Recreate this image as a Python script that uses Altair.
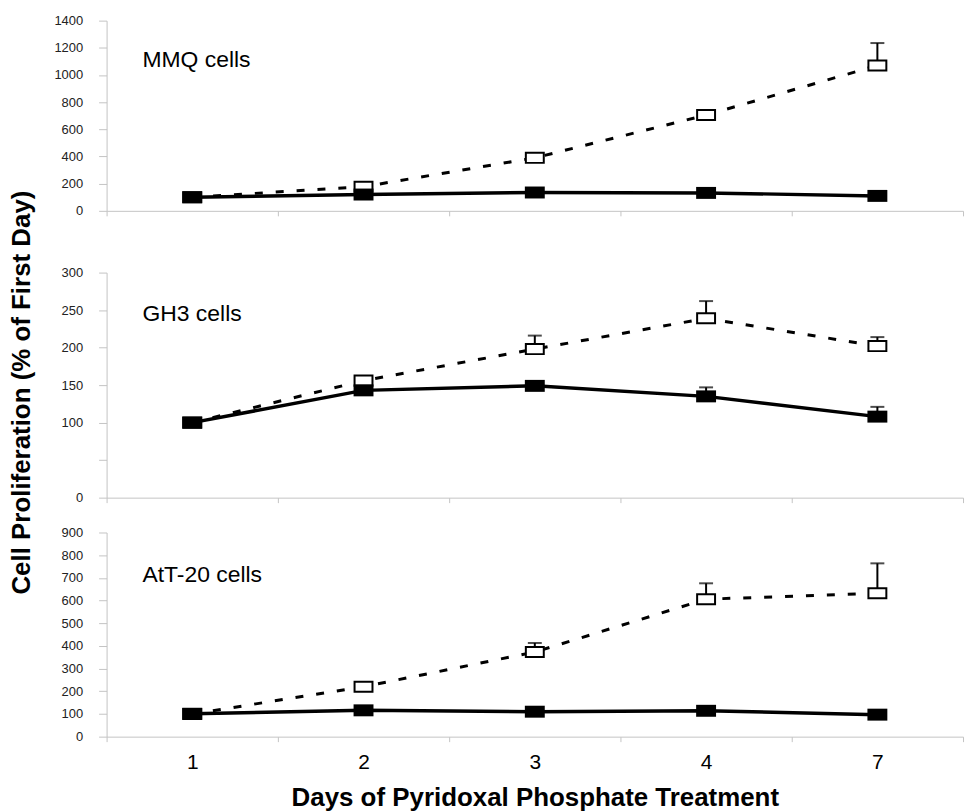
import altair as alt
import pandas as pd

days = ["1", "2", "3", "4", "7"]
panel_names = ["MMQ cells", "GH3 cells", "AtT-20 cells"]

# MMQ cells
mmq_control = [100, 120, 135, 132, 110]
mmq_control_upper = [None, None, None, None, None]
mmq_treated = [100, 178, 390, 705, 1070]
mmq_treated_upper = [None, None, None, None, 1235]

# GH3 cells
gh3_control = [100, 143, 149, 135, 108]
gh3_control_upper = [None, None, 155, 147, 121]
gh3_treated = [100, 156, 198, 239, 202]
gh3_treated_upper = [None, None, 216, 262, 214]

# AtT-20 cells
att_control = [101, 116, 110, 114, 97]
att_control_upper = [None, None, None, None, None]
att_treated = [100, 220, 373, 606, 632]
att_treated_upper = [None, None, 413, 676, 764]

x_title = "Days of Pyridoxal Phosphate Treatment"
y_title = "Cell Proliferation (% of  First Day)"

FONT = "Liberation Sans"
AX = "#c4c4c4"
W = 860

box_filled = "M-1,-0.6L1,-0.6L1,0.6L-1,0.6Z"
box_open = "M-1,-0.56L1,-0.56L1,0.56L-1,0.56Z"


def make_df(ctrl, ctrl_up, trt, trt_up):
    rows = []
    for d, v, u in zip(days, ctrl, ctrl_up):
        rows.append({"day": d, "value": v, "upper": u, "series": "control"})
    for d, v, u in zip(days, trt, trt_up):
        rows.append({"day": d, "value": v, "upper": u, "series": "treated"})
    return pd.DataFrame(rows)


def panel(df, name, height, ymax, yvalues, label_y, bottom=False, ytitle=None, hide50=False,
          top_gap=0):
    xaxis = alt.Axis(
        labels=bottom, title=x_title if bottom else None, tickBand="extent", tickSize=5,
        domainColor=AX, tickColor=AX, labelFontSize=21, labelColor="black", labelPadding=10,
        labelAngle=0, titleFontSize=26, titleFontWeight="bold", titlePadding=12, titleColor="black",
        labelFont=FONT, titleFont=FONT,
    )
    x = alt.X("day:N", sort=days, bandPosition=0.5,
              scale=alt.Scale(type="band", domain=days, paddingInner=0, paddingOuter=0),
              axis=xaxis)
    total_h = height + top_gap
    yscale = alt.Scale(domain=[0, ymax], nice=False, zero=True, range=[total_h, top_gap])
    yaxis_kw = dict(values=yvalues, grid=False, tickSize=8, labelPadding=16, domainColor=AX,
                    tickColor=AX, labelFontSize=13, labelColor="#222", labelFont=FONT, format="d")
    if hide50:
        yaxis_kw["labelExpr"] = "datum.value == 50 ? '' : datum.label"
    if ytitle:
        yaxis_kw.update(title=ytitle, titleFontSize=26, titleFontWeight="bold", titleColor="black",
                        titlePadding=27, titleFont=FONT, titleY=top_gap + 120)
    else:
        yaxis_kw["title"] = None
    yaxis = alt.Axis(**yaxis_kw)
    y = alt.Y("value:Q", scale=yscale, axis=yaxis)
    y_up = alt.Y("upper:Q", scale=yscale, axis=yaxis)

    base = alt.Chart(df)
    ctrl = base.transform_filter("datum.series == 'control'")
    trt = base.transform_filter("datum.series == 'treated'")
    err = base.transform_filter("isValid(datum.upper)")

    rules = err.mark_rule(color="black", strokeWidth=2).encode(x=x, y=y, y2="upper:Q")
    caps = err.mark_tick(color="black", thickness=2, size=14).encode(x=x, y=y_up)
    trt_line = trt.mark_line(color="black", strokeWidth=3, strokeDash=[8, 13]).encode(x=x, y=y)
    trt_pts = trt.mark_point(shape=box_open, size=324, filled=True, fill="white", stroke="black",
                             strokeWidth=2, opacity=1).encode(x=x, y=y)
    ctrl_line = ctrl.mark_line(color="black", strokeWidth=3.5).encode(x=x, y=y)
    ctrl_pts = ctrl.mark_point(shape=box_filled, size=400, filled=True, color="black",
                               opacity=1).encode(x=x, y=y)
    label_df = pd.DataFrame({"name": [name]})
    label = alt.Chart(label_df).mark_text(
        align="left", baseline="middle", fontSize=23, font=FONT, color="black"
    ).encode(x=alt.value(36), y=alt.value(top_gap + label_y), text="name:N")
    layers = [rules, caps, trt_line, trt_pts, ctrl_line, ctrl_pts, label]
    return alt.layer(*layers).properties(width=W, height=total_h)


p1 = panel(make_df(mmq_control, mmq_control_upper, mmq_treated, mmq_treated_upper),
           panel_names[0], 191, 1400, list(range(0, 1401, 200)), 40)
p2 = panel(make_df(gh3_control, gh3_control_upper, gh3_treated, gh3_treated_upper),
           panel_names[1], 226, 300, list(range(0, 301, 50)), 42, ytitle=y_title, hide50=True,
           top_gap=27)
p3 = panel(make_df(att_control, att_control_upper, att_treated, att_treated_upper),
           panel_names[2], 205, 900, list(range(0, 901, 100)), 43, bottom=True)

chart = alt.vconcat(p1, p2, p3, spacing=35, bounds="flush").properties(
    padding={"left": 0, "top": 5, "right": 5, "bottom": 5}
).configure(font=FONT, background="white", view=alt.ViewConfig(stroke=None))

chart.save("out.html", embed_options={"renderer": "svg", "actions": False})
